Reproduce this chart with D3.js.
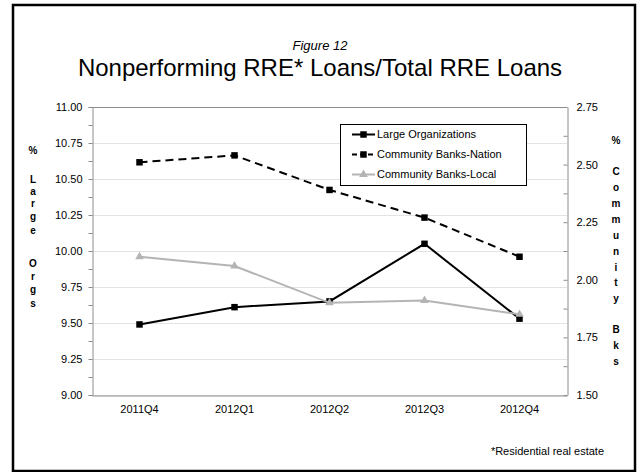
<!DOCTYPE html>
<html>
<head>
<meta charset="utf-8">
<script src="https://cdn.jsdelivr.net/npm/d3@7/dist/d3.min.js"></script>
<style>
  html, body { margin: 0; padding: 0; background: #fff; }
  svg { display: block; font-family: Arial, "Liberation Sans", sans-serif; }
</style>
</head>
<body>
<svg id="chart" width="639" height="472"></svg>
<script>
// Quarters on the category axis
const quarters = ["2011Q4", "2012Q1", "2012Q2", "2012Q3", "2012Q4"];

// Nonperforming RRE loans as % of total RRE loans
const largeOrgs = [9.49, 9.61, 9.65, 10.05, 9.53];        // left axis
const communityNation = [2.51, 2.54, 2.39, 2.27, 2.10];   // right axis
const communityLocal = [2.10, 2.06, 1.90, 1.91, 1.85];    // right axis

// Axis tick labels
const leftTicks = [9.00, 9.25, 9.50, 9.75, 10.00, 10.25, 10.50, 10.75, 11.00];
const rightTicks = [1.50, 1.75, 2.00, 2.25, 2.50, 2.75];

const svg = d3.select("#chart");

const plot = { left: 92, right: 567, top: 107, bottom: 395 };

const x = d3.scaleBand().domain(quarters).range([plot.left, plot.right]);
const yL = d3.scaleLinear().domain([9, 11]).range([plot.bottom, plot.top]);
const yR = d3.scaleLinear().domain([1.5, 2.75]).range([plot.bottom, plot.top]);
const cx = q => x(q) + x.bandwidth() / 2;

// Outer frame
svg.append("rect")
  .attr("x", 13).attr("y", 5).attr("width", 622).attr("height", 466)
  .attr("fill", "none").attr("stroke", "#000").attr("stroke-width", 2.5);

// Titles
svg.append("text").attr("x", 320).attr("y", 50)
  .attr("text-anchor", "middle").attr("font-size", 13).attr("font-style", "italic")
  .text("Figure 12");
svg.append("text").attr("x", 320).attr("y", 76)
  .attr("text-anchor", "middle").attr("font-size", 24)
  .text("Nonperforming RRE* Loans/Total RRE Loans");

// Horizontal gridlines
svg.append("g").selectAll("line").data(leftTicks).join("line")
  .attr("x1", plot.left).attr("x2", plot.right)
  .attr("y1", d => Math.round(yL(d)) + 0.5).attr("y2", d => Math.round(yL(d)) + 0.5)
  .attr("stroke", d => d === 11 ? "#8c8c8c" : "#e3e3e3").attr("stroke-width", 1);

// Left axis
const leftAxis = d3.axisLeft(yL)
  .tickValues(d3.range(9, 11.001, 0.125))
  .tickSize(4)
  .tickFormat(d => leftTicks.some(t => Math.abs(t - d) < 1e-9) ? d3.format(".2f")(d) : "");
const gL = svg.append("g").attr("transform", `translate(${plot.left + 0.5},0)`).call(leftAxis);
gL.select(".domain").attr("stroke", "#8c8c8c");
gL.selectAll(".tick line").attr("stroke", "#8c8c8c");
gL.selectAll(".tick text").attr("font-size", 11).attr("fill", "#000")
  .attr("x", -10).attr("font-family", "Arial, 'Liberation Sans', sans-serif");

// Right axis (ticks point into the plot)
const rightAxis = d3.axisRight(yR)
  .tickValues(d3.range(1.5, 2.7501, 0.125))
  .tickSizeInner(-4).tickSizeOuter(0)
  .tickFormat(d => rightTicks.some(t => Math.abs(t - d) < 1e-9) ? d3.format(".2f")(d) : "");
const gR = svg.append("g").attr("transform", `translate(${plot.right + 0.5},0)`).call(rightAxis);
gR.select(".domain").attr("stroke", "#8c8c8c");
gR.selectAll(".tick line").attr("stroke", "#8c8c8c");
gR.selectAll(".tick text").attr("font-size", 11).attr("fill", "#000")
  .attr("x", 9).attr("font-family", "Arial, 'Liberation Sans', sans-serif");

// Bottom axis
const bottomAxis = d3.axisBottom(x).tickSize(0).tickPadding(10);
const gB = svg.append("g").attr("transform", `translate(0,${plot.bottom + 0.5})`).call(bottomAxis);
gB.select(".domain").attr("stroke", "#8c8c8c");
gB.selectAll(".tick text").attr("font-size", 11).attr("fill", "#000")
  .attr("font-family", "Arial, 'Liberation Sans', sans-serif");

// Vertical axis titles, one letter per line
const leftTitle = [["%", 150], ["L", 179], ["a", 191], ["r", 203], ["g", 216], ["e", 230],
                   ["O", 263], ["r", 276], ["g", 289], ["s", 303]];
const rightTitle = [["%", 140], ["C", 171], ["o", 187], ["m", 203], ["m", 219], ["u", 235],
                    ["n", 251], ["i", 267], ["t", 282], ["y", 298], ["B", 329], ["k", 345], ["s", 361]];
svg.append("g").selectAll("text").data(leftTitle).join("text")
  .attr("x", 33).attr("y", d => d[1]).attr("dy", "0.35em")
  .attr("text-anchor", "middle").attr("font-size", 10).attr("font-weight", "bold")
  .text(d => d[0]);
svg.append("g").selectAll("text").data(rightTitle).join("text")
  .attr("x", 616).attr("y", d => d[1]).attr("dy", "0.35em")
  .attr("text-anchor", "middle").attr("font-size", 10).attr("font-weight", "bold")
  .text(d => d[0]);

// Series definitions
const series = [
  { name: "Large Organizations", values: largeOrgs, y: yL, color: "#000", dash: null, marker: "square" },
  { name: "Community Banks-Nation", values: communityNation, y: yR, color: "#000", dash: "8,5", marker: "square" },
  { name: "Community Banks-Local", values: communityLocal, y: yR, color: "#b4b4b4", dash: null, marker: "triangle" }
];

const squareSym = d3.symbol().type(d3.symbolSquare).size(42);
const triSym = d3.symbol().type(d3.symbolTriangle).size(32);

series.forEach(s => {
  const pts = quarters.map((q, i) => [cx(q), s.y(s.values[i])]);
  svg.append("path")
    .attr("d", d3.line()(pts))
    .attr("fill", "none").attr("stroke", s.color).attr("stroke-width", 2)
    .attr("stroke-dasharray", s.dash);
  svg.append("g").selectAll("path").data(pts).join("path")
    .attr("transform", d => `translate(${d[0]},${d[1]})`)
    .attr("d", s.marker === "square" ? squareSym() : triSym())
    .attr("fill", s.color);
});

// Legend
const lg = svg.append("g");
lg.append("rect").attr("x", 340.5).attr("y", 124.5).attr("width", 186).attr("height", 61)
  .attr("fill", "#fff").attr("stroke", "#000").attr("stroke-width", 1);
series.forEach((s, i) => {
  const ly = 134.5 + i * 20;
  lg.append("line").attr("x1", 352).attr("x2", 375).attr("y1", ly).attr("y2", ly)
    .attr("stroke", s.color).attr("stroke-width", 2).attr("stroke-dasharray", s.dash ? "5,3" : null);
  lg.append("path").attr("transform", `translate(363.5,${ly})`)
    .attr("d", s.marker === "square" ? squareSym() : triSym()).attr("fill", s.color);
  lg.append("text").attr("x", 377).attr("y", ly).attr("dy", "0.35em")
    .attr("font-size", 11).text(s.name);
});

// Footnote
svg.append("text").attr("x", 604).attr("y", 451).attr("dy", "0.35em")
  .attr("text-anchor", "end").attr("font-size", 11)
  .text("*Residential real estate");
</script>
</body>
</html>
